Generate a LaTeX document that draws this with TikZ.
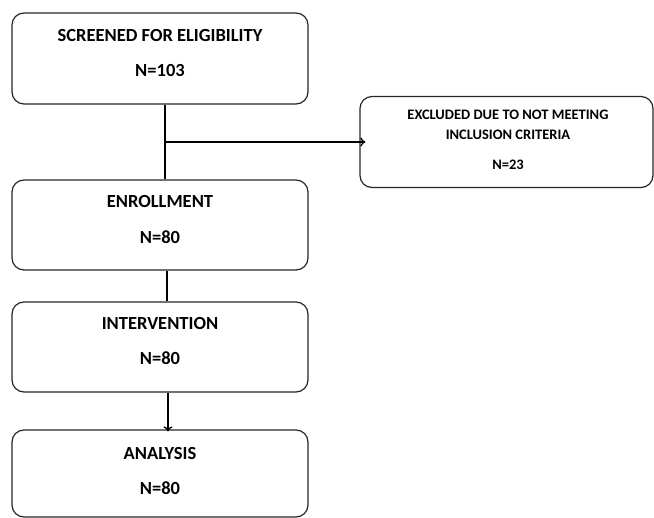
\documentclass[tikz,border=0pt]{standalone}
\usepackage{fontspec}
\setmainfont{Carlito}
\usetikzlibrary{arrows.meta}
\begin{document}
\begin{tikzpicture}[x=1pt,y=1pt,
  box/.style={draw=black!85,line width=1.2pt,rounded corners=12pt,minimum width=296pt,inner sep=0pt},
  big/.style={font=\bfseries\fontsize{18.5}{22}\selectfont,inner sep=0pt},
  small/.style={font=\bfseries\fontsize{14.5}{17}\selectfont,inner sep=0pt},
  conn/.style={draw=black,line width=1.3pt},
  arr/.style={conn,-{To[length=5pt,width=9pt]}}]
\useasboundingbox (0,0) rectangle (654,-518);
\node[box,minimum height=91pt] (b1) at (160,-58.5) {};
\node[big] (t1a) at (160,-36) {SCREENED FOR ELIGIBILITY};
\node[big] (t1b) at (160,-71) {N=103};
\node[box,minimum width=293pt,minimum height=91pt] (ex) at (506.5,-142) {};
\node[small] (tea) at (508,-115) {EXCLUDED DUE TO NOT MEETING};
\node[small] (teb) at (508,-135) {INCLUSION CRITERIA};
\node[small] (tec) at (508,-165) {N=23};
\node[box,minimum height=90pt] (b2) at (160,-225) {};
\node[big] (t2a) at (160,-202) {ENROLLMENT};
\node[big] (t2b) at (160,-237) {N=80};
\node[box,minimum height=90pt] (b3) at (160,-347) {};
\node[big] (t3a) at (160,-323) {INTERVENTION};
\node[big] (t3b) at (160,-358) {N=80};
\node[box,minimum height=87pt] (b4) at (160,-473.5) {};
\node[big] (t4a) at (160,-453) {ANALYSIS};
\node[big] (t4b) at (160,-488) {N=80};
\coordinate (j) at (165,-142);
\draw[conn] ([xshift=5pt]b1.south) -- ([xshift=5pt]b2.north);
\draw[arr] (j) -- ([xshift=6pt]ex.west);
\draw[conn] ([xshift=7pt]b2.south) -- ([xshift=7pt]b3.north);
\draw[arr] ([xshift=8pt]b3.south) -- ([xshift=8pt,yshift=-2pt]b4.north);
\end{tikzpicture}
\end{document}
